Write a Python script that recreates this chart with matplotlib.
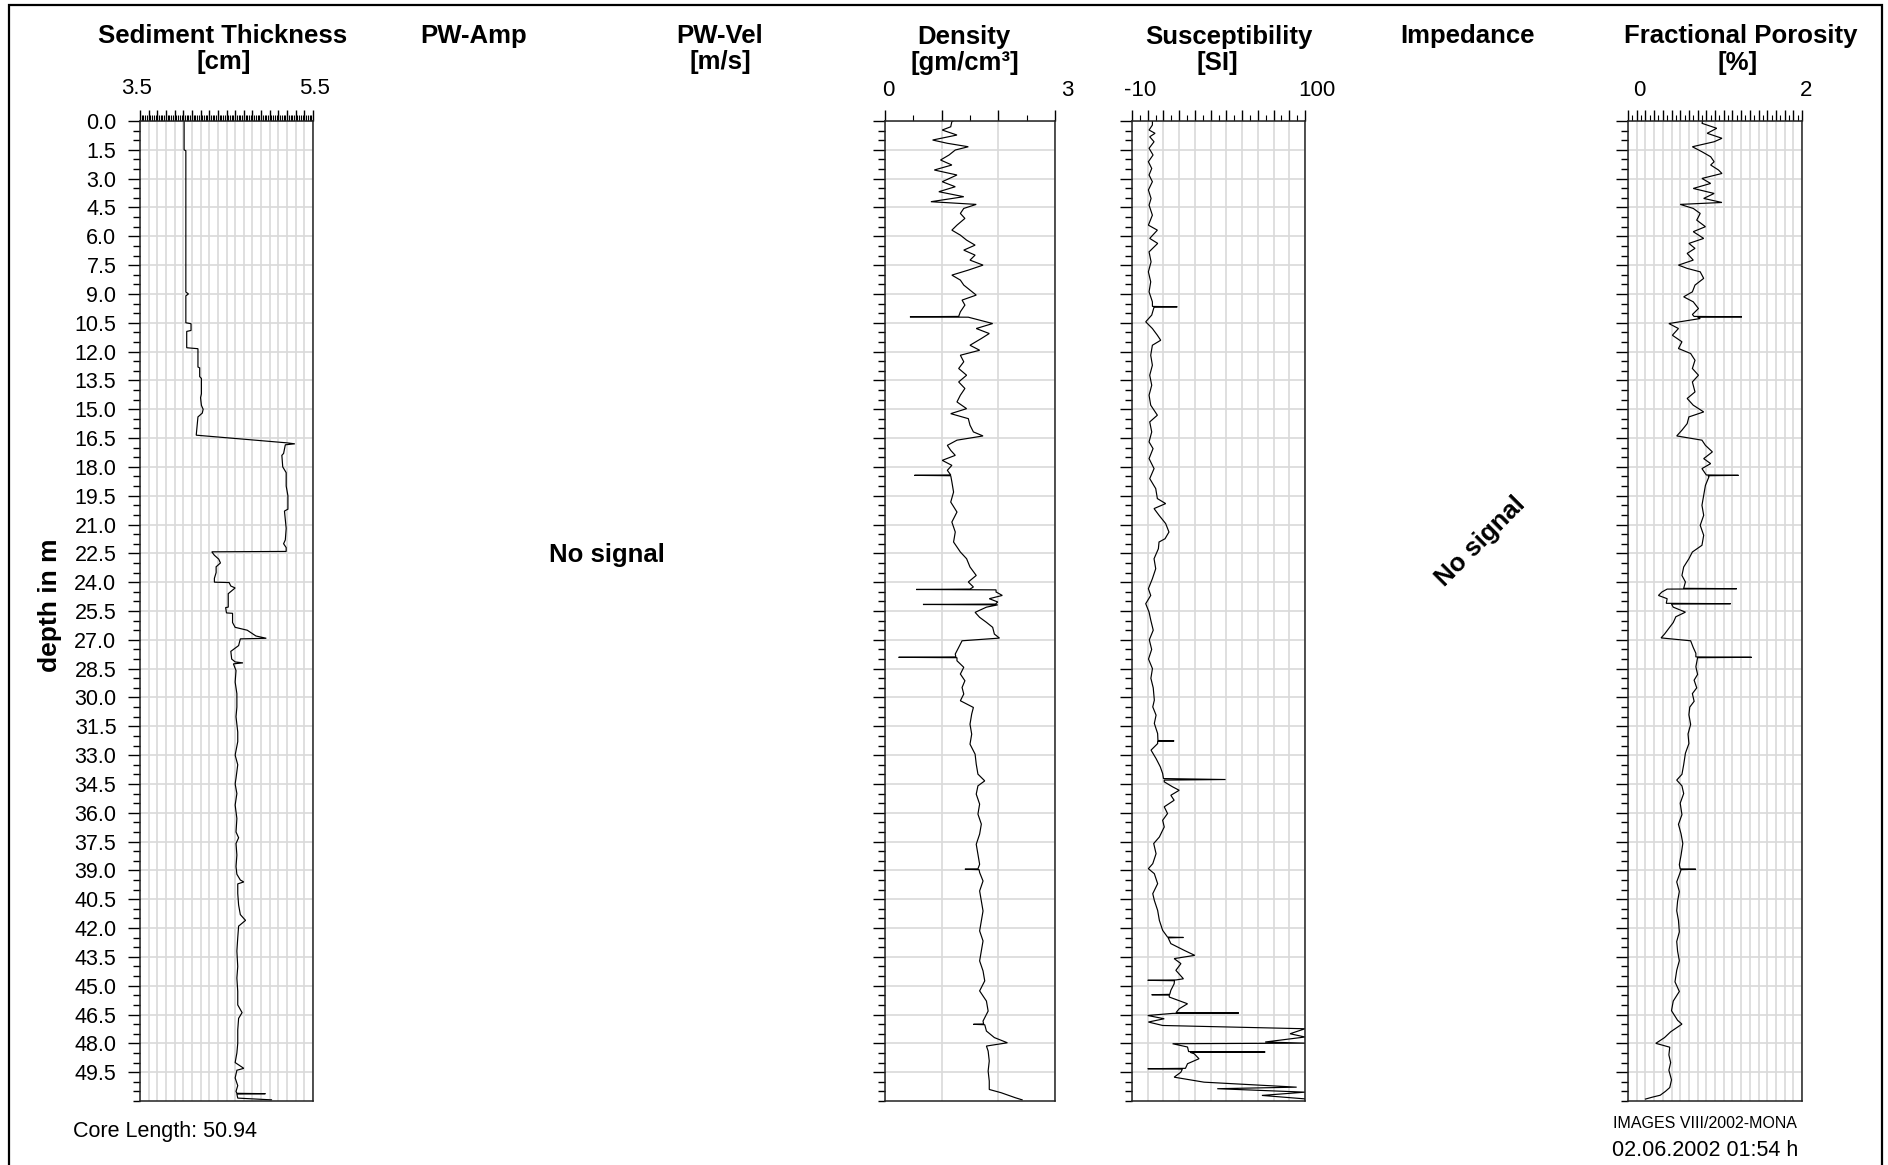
import matplotlib
matplotlib.use("Agg")
import numpy as np
import matplotlib.pyplot as plt
from matplotlib.ticker import MultipleLocator, FixedLocator, FormatStrFormatter
from matplotlib.patches import Rectangle

plt.rcParams['font.family'] = ['Liberation Sans', 'DejaVu Sans']

# ---------------------------------------------------------------- data
core_length = 50.94
depth_ticks = [round(1.5 * i, 1) for i in range(34)]   # 0.0 ... 49.5 m

# (depth m, sediment thickness cm)
thickness_log = [
    (0.00, 4.01), (1.50, 4.01), (1.55, 4.03), (8.90, 4.03), (9.00, 4.06), (9.10, 4.03),
    (10.50, 4.03), (10.55, 4.09), (10.90, 4.09), (10.95, 4.04), (11.80, 4.04), (11.85, 4.17),
    (12.80, 4.17), (12.85, 4.19), (13.30, 4.19), (13.40, 4.21), (14.20, 4.21), (14.40, 4.20),
    (14.80, 4.21), (15.00, 4.23), (15.20, 4.22), (15.40, 4.17), (16.35, 4.15), (16.75, 5.20),
    (16.80, 5.29), (16.85, 5.18), (17.30, 5.16), (17.40, 5.14), (18.00, 5.15), (18.30, 5.19),
    (19.00, 5.19), (19.50, 5.21), (20.20, 5.21), (20.30, 5.17), (21.20, 5.19), (21.80, 5.18),
    (22.00, 5.16), (22.20, 5.19), (22.40, 5.19), (22.42, 4.33), (22.60, 4.36), (22.80, 4.41),
    (23.00, 4.43), (23.20, 4.38), (23.50, 4.38), (23.80, 4.36), (24.00, 4.36), (24.02, 4.53),
    (24.20, 4.55), (24.30, 4.60), (24.60, 4.52), (25.00, 4.52), (25.30, 4.52), (25.32, 4.49),
    (25.60, 4.50), (25.62, 4.57), (26.10, 4.57), (26.35, 4.60), (26.50, 4.74), (26.80, 4.84),
    (26.92, 4.96), (26.95, 4.66), (27.30, 4.64), (27.60, 4.55), (28.00, 4.56), (28.15, 4.60),
    (28.20, 4.69), (28.25, 4.58), (28.60, 4.61), (29.20, 4.60), (29.80, 4.62), (30.50, 4.62),
    (31.00, 4.61), (31.80, 4.63), (32.30, 4.63), (33.00, 4.60), (33.50, 4.63), (34.20, 4.61),
    (34.50, 4.60), (35.00, 4.62), (35.60, 4.60), (36.30, 4.62), (37.00, 4.61), (37.30, 4.64),
    (37.60, 4.61), (38.20, 4.62), (38.80, 4.61), (39.20, 4.62), (39.50, 4.66), (39.60, 4.70),
    (39.70, 4.63), (40.20, 4.63), (40.80, 4.64), (41.30, 4.66), (41.60, 4.72), (41.90, 4.64),
    (42.50, 4.63), (43.20, 4.62), (44.00, 4.63), (44.60, 4.62), (45.30, 4.63), (46.00, 4.63),
    (46.40, 4.68), (46.70, 4.64), (47.30, 4.63), (48.00, 4.63), (48.50, 4.62), (49.00, 4.60),
    (49.30, 4.70), (49.40, 4.62), (49.80, 4.60), (50.20, 4.63), (50.50, 4.61), (50.60, 4.62),
    (50.62, 4.95), (50.64, 4.62), (50.85, 4.63), (50.94, 5.02),
]

# (depth m, bulk density g/cm3)
density_log = [
    (0.00, 1.20), (0.03, 1.18), (0.30, 1.16), (0.47, 1.01), (0.73, 1.27), (0.99, 0.84),
    (1.16, 1.10), (1.34, 1.47), (1.51, 1.24), (1.77, 1.13), (2.03, 0.98), (2.29, 1.18),
    (2.55, 0.87), (2.81, 1.27), (3.16, 1.01), (3.42, 1.24), (3.68, 0.95), (3.94, 1.39),
    (4.20, 0.81), (4.34, 1.61), (4.55, 1.39), (4.81, 1.33), (5.07, 1.41), (5.42, 1.27),
    (5.68, 1.18), (5.94, 1.33), (6.20, 1.44), (6.46, 1.59), (6.72, 1.39), (6.98, 1.59),
    (7.24, 1.50), (7.50, 1.73), (7.76, 1.47), (8.02, 1.18), (8.28, 1.33), (8.54, 1.39),
    (8.80, 1.50), (9.06, 1.61), (9.32, 1.36), (9.58, 1.41), (9.93, 1.33), (10.17, 1.30),
    (10.19, 0.44), (10.21, 1.47), (10.54, 1.90), (10.80, 1.61), (11.06, 1.84), (11.32, 1.70),
    (11.67, 1.50), (11.93, 1.67), (12.19, 1.33), (12.53, 1.39), (12.88, 1.30), (13.23, 1.44),
    (13.58, 1.30), (13.92, 1.41), (14.27, 1.33), (14.62, 1.27), (14.97, 1.44), (15.23, 1.16),
    (15.49, 1.47), (15.83, 1.50), (16.18, 1.56), (16.39, 1.73), (16.61, 1.27), (16.88, 1.10),
    (17.14, 1.16), (17.40, 1.24), (17.66, 1.01), (17.92, 1.18), (18.18, 1.10), (18.42, 1.16),
    (18.44, 0.52), (18.46, 1.16), (18.78, 1.18), (19.31, 1.21), (19.83, 1.16), (20.35, 1.27),
    (20.87, 1.18), (21.39, 1.24), (21.91, 1.21), (22.43, 1.33), (22.78, 1.44), (23.21, 1.50),
    (23.65, 1.61), (23.99, 1.47), (24.25, 1.56), (24.36, 1.50), (24.38, 0.55), (24.40, 1.96),
    (24.51, 1.96), (24.69, 2.07), (24.86, 1.84), (25.03, 1.99), (25.14, 1.95), (25.16, 0.67),
    (25.18, 1.99), (25.30, 1.79), (25.57, 1.59), (25.83, 1.67), (26.09, 1.79), (26.35, 1.90),
    (26.70, 1.93), (26.91, 2.02), (27.05, 1.36), (27.39, 1.30), (27.74, 1.24), (27.89, 1.25),
    (27.91, 0.24), (27.93, 1.27), (28.09, 1.27), (28.43, 1.39), (28.78, 1.33), (29.13, 1.41),
    (29.48, 1.36), (29.82, 1.39), (30.17, 1.33), (30.52, 1.56), (30.86, 1.53), (31.39, 1.50),
    (31.91, 1.53), (32.43, 1.50), (32.95, 1.59), (33.47, 1.61), (33.99, 1.64), (34.34, 1.76),
    (34.60, 1.64), (35.03, 1.61), (35.55, 1.67), (36.07, 1.64), (36.59, 1.70), (37.11, 1.67),
    (37.64, 1.61), (38.16, 1.64), (38.68, 1.67), (38.92, 1.64), (38.94, 1.41), (38.96, 1.66),
    (39.11, 1.67), (39.55, 1.73), (40.07, 1.67), (40.59, 1.70), (41.11, 1.73), (41.63, 1.70),
    (42.15, 1.67), (42.67, 1.73), (43.19, 1.70), (43.71, 1.67), (44.23, 1.73), (44.75, 1.76),
    (45.27, 1.67), (45.80, 1.79), (46.32, 1.82), (46.84, 1.73), (46.99, 1.74), (47.01, 1.56),
    (47.03, 1.76), (47.36, 1.79), (47.70, 1.93), (47.97, 2.16), (48.14, 1.79), (48.40, 1.82),
    (48.92, 1.84), (49.44, 1.82), (49.96, 1.84), (50.40, 1.84), (50.57, 2.05), (50.83, 2.30),
    (50.94, 2.42),
]

# (depth m, magnetic susceptibility SI)
susceptibility_log = [
    (0.00, 3.0), (0.21, 2.96), (0.47, 0.85), (0.64, 4.65), (0.82, 1.27), (1.08, 4.02),
    (1.42, 0.85), (1.77, 3.38), (2.12, 0.42), (2.47, 2.54), (2.81, 0.85), (3.16, 2.96),
    (3.59, 0.42), (4.03, 2.12), (4.38, 0.85), (4.90, 2.96), (5.42, 0.42), (5.68, 6.13),
    (6.11, 1.27), (6.37, 6.35), (6.81, 0.85), (7.33, 2.12), (7.85, 0.42), (8.37, 1.90),
    (8.89, 0.85), (9.41, 2.96), (9.65, 3.0), (9.67, 18.8), (9.69, 4.0), (10.10, 2.54),
    (10.45, -1.27), (10.80, 2.96), (11.15, 6.13), (11.41, 8.25), (11.67, 2.96), (12.19, 1.90),
    (12.71, 2.96), (13.23, 1.27), (13.75, 2.54), (14.27, 0.85), (14.79, 1.90), (15.31, 6.13),
    (15.66, 1.27), (16.18, 2.54), (16.70, 0.85), (17.05, 3.38), (17.57, 0.85), (18.09, 4.02),
    (18.61, 1.27), (19.13, 5.08), (19.65, 6.13), (19.91, 11.4), (20.17, 4.02), (20.52, 7.19),
    (20.95, 11.4), (21.39, 13.5), (21.74, 11.0), (21.91, 7.19), (22.26, 6.77), (22.78, 4.02),
    (23.30, 5.08), (23.82, 2.96), (24.34, 0.42), (24.69, 1.90), (25.12, -1.27), (25.56, 0.85),
    (26.00, 2.0), (26.50, 3.5), (27.00, 1.0), (27.50, 2.5), (28.00, 0.5), (28.50, 3.0),
    (29.00, 2.0), (29.50, 3.5), (30.14, 4.2), (30.49, 3.2), (30.92, 5.3), (31.35, 4.2),
    (31.88, 6.3), (32.24, 6.5), (32.26, 16.8), (32.28, 6.3), (32.40, 6.3), (32.74, 2.1),
    (33.18, 5.3), (33.61, 8.0), (33.96, 9.5), (34.22, 10.0), (34.27, 49.5), (34.30, 10.5),
    (34.39, 10.5), (34.65, 15.8), (34.83, 20.0), (35.09, 14.7), (35.35, 16.8), (35.69, 10.5),
    (36.04, 12.6), (36.39, 9.5), (36.74, 10.5), (37.26, 7.4), (37.60, 3.8), (38.13, 5.3),
    (38.65, 3.2), (38.91, 0.4), (39.17, 4.2), (39.69, 6.3), (40.21, 3.2), (40.56, 4.2),
    (41.08, 6.3), (41.60, 7.4), (42.12, 9.5), (42.47, 12.6), (42.49, 22.7), (42.51, 13.0),
    (42.81, 14.7), (43.16, 23.2), (43.42, 29.9), (43.59, 16.8), (43.85, 21.1), (44.20, 17.9),
    (44.64, 22.7), (44.70, 18.0), (44.72, 0.0), (44.74, 17.0), (44.90, 16.8), (45.24, 14.7),
    (45.45, 14.0), (45.47, 2.5), (45.49, 13.7), (45.59, 13.7), (45.94, 25.3), (46.20, 20.0),
    (46.40, 18.0), (46.42, 57.9), (46.44, 16.0), (46.55, 0.0), (46.72, 10.5), (46.89, 0.4),
    (47.07, 9.5), (47.24, 100.0), (47.50, 90.5), (47.67, 100.0), (47.93, 74.7), (47.99, 100.0),
    (48.02, 15.8), (48.19, 25.3), (48.43, 26.0), (48.45, 74.7), (48.47, 27.0), (48.54, 29.5),
    (48.80, 32.6), (49.06, 25.3), (49.30, 24.0), (49.32, 0.0), (49.34, 22.0), (49.50, 21.1),
    (49.76, 16.8), (50.02, 35.8), (50.28, 94.7), (50.36, 44.2), (50.54, 100.0), (50.71, 72.6),
    (50.89, 100.0),
]

# (depth m, fractional porosity)
porosity_log = [
    (0.00, 0.86), (0.12, 0.85), (0.38, 1.02), (0.64, 0.91), (0.90, 1.08), (1.08, 0.99),
    (1.34, 0.74), (1.60, 0.85), (1.86, 0.95), (2.12, 0.99), (2.29, 0.95), (2.55, 1.04),
    (2.73, 1.08), (2.99, 0.85), (3.25, 0.95), (3.51, 0.75), (3.77, 0.99), (4.03, 0.87),
    (4.24, 1.08), (4.34, 0.60), (4.55, 0.75), (4.81, 0.83), (5.16, 0.79), (5.50, 0.89),
    (5.76, 0.75), (6.11, 0.87), (6.37, 0.70), (6.63, 0.77), (6.89, 0.68), (7.24, 0.75),
    (7.50, 0.58), (7.67, 0.68), (7.85, 0.83), (8.19, 0.87), (8.54, 0.77), (8.89, 0.74),
    (9.15, 0.64), (9.41, 0.75), (9.76, 0.81), (10.07, 0.74), (10.17, 0.76), (10.19, 1.31),
    (10.21, 0.80), (10.28, 0.83), (10.54, 0.47), (10.80, 0.58), (11.15, 0.51), (11.49, 0.62),
    (11.84, 0.58), (12.10, 0.72), (12.45, 0.77), (12.88, 0.74), (13.23, 0.81), (13.58, 0.74),
    (14.10, 0.77), (14.44, 0.68), (14.79, 0.75), (15.14, 0.87), (15.40, 0.70), (15.75, 0.68),
    (16.09, 0.62), (16.39, 0.56), (16.61, 0.85), (16.88, 0.89), (17.22, 0.97), (17.57, 0.87),
    (17.83, 0.95), (18.09, 0.85), (18.42, 0.90), (18.44, 1.27), (18.46, 0.92), (18.52, 0.93),
    (18.96, 0.89), (19.48, 0.87), (20.00, 0.85), (20.52, 0.87), (21.04, 0.83), (21.56, 0.87),
    (22.08, 0.85), (22.43, 0.74), (22.78, 0.70), (23.21, 0.64), (23.65, 0.62), (23.99, 0.66),
    (24.32, 0.64), (24.34, 1.25), (24.36, 0.45), (24.51, 0.39), (24.69, 0.35), (24.86, 0.45),
    (25.10, 0.44), (25.12, 1.18), (25.14, 0.50), (25.30, 0.52), (25.56, 0.66), (25.80, 0.55),
    (26.10, 0.52), (26.40, 0.47), (26.70, 0.42), (26.90, 0.38), (27.05, 0.72), (27.40, 0.75),
    (27.70, 0.78), (27.89, 0.78), (27.91, 1.42), (27.93, 0.80), (28.40, 0.78), (28.80, 0.80),
    (29.10, 0.76), (29.50, 0.79), (29.80, 0.74), (30.20, 0.76), (30.50, 0.71), (30.90, 0.70),
    (31.40, 0.72), (31.90, 0.69), (32.40, 0.70), (32.90, 0.66), (33.50, 0.64), (34.00, 0.62),
    (34.30, 0.56), (34.60, 0.62), (35.00, 0.64), (35.50, 0.60), (36.10, 0.62), (36.60, 0.58),
    (37.10, 0.61), (37.60, 0.63), (38.20, 0.61), (38.70, 0.59), (38.92, 0.60), (38.94, 0.78),
    (38.96, 0.61), (39.10, 0.60), (39.60, 0.56), (40.10, 0.59), (40.60, 0.57), (41.10, 0.56),
    (41.60, 0.58), (42.20, 0.59), (42.70, 0.56), (43.20, 0.57), (43.70, 0.59), (44.20, 0.56),
    (44.80, 0.54), (45.30, 0.59), (45.80, 0.52), (46.30, 0.50), (46.80, 0.57), (47.00, 0.62),
    (47.40, 0.49), (47.70, 0.42), (48.00, 0.32), (48.20, 0.48), (48.60, 0.47), (49.00, 0.49),
    (49.40, 0.47), (49.90, 0.50), (50.30, 0.48), (50.50, 0.43), (50.70, 0.37), (50.80, 0.28),
    (50.90, 0.20),
]

# ---------------------------------------------------------------- figure
W, H = 1888, 1165
fig = plt.figure(figsize=(W / 100, H / 100), dpi=100)
TOP, BOTTOM = 121, 1101
DEPTH_MAX = 51.0


def px_axes(x0, x1):
    return fig.add_axes([x0 / W, 1 - BOTTOM / H, (x1 - x0) / W, (BOTTOM - TOP) / H])


def ftext(x, y, s, **kw):
    kw.setdefault('ha', 'center')
    kw.setdefault('va', 'center')
    return fig.text(x / W, 1 - y / H, s, **kw)


def log_panel(x0, x1, xlim, major, minor, log, show_depth=False):
    ax = px_axes(x0, x1)
    depth, value = zip(*log)
    ax.plot(value, depth, color='black', lw=0.85, solid_joinstyle='miter')
    ax.set_xlim(*xlim)
    ax.set_ylim(DEPTH_MAX, 0)
    ax.xaxis.set_major_locator(MultipleLocator(major))
    ax.xaxis.set_minor_locator(MultipleLocator(minor))
    ax.yaxis.set_major_locator(FixedLocator(depth_ticks))
    ax.yaxis.set_minor_locator(MultipleLocator(0.5))
    ax.yaxis.set_major_formatter(FormatStrFormatter('%.1f'))
    ax.tick_params(axis='x', which='both', top=True, bottom=False,
                   labeltop=False, labelbottom=False, direction='out', color='black')
    ax.tick_params(axis='x', which='major', length=8, width=1.0)
    ax.tick_params(axis='x', which='minor', length=4.5, width=0.8)
    ax.tick_params(axis='y', which='both', left=True, right=False,
                   direction='out', labelleft=show_depth, color='black')
    ax.tick_params(axis='y', which='major', length=9, width=1.0, pad=8, labelsize=15.5)
    ax.tick_params(axis='y', which='minor', length=5, width=1.0)
    ax.grid(True, which='major', color='#d9d9d9', lw=1.2)
    ax.set_axisbelow(True)
    for sp in ax.spines.values():
        sp.set_linewidth(1.1)
        sp.set_color('#222222')
    return ax


log_panel(140, 313, (3.5, 5.5), 0.1, 0.02, thickness_log, show_depth=True)
log_panel(885, 1055, (0, 3), 1, 0.5, density_log)
log_panel(1132, 1305, (-10, 100), 10, 5, susceptibility_log)
log_panel(1628, 1802, (0, 2), 0.1, 0.05, porosity_log)

# ---------------------------------------------------------------- headers
TITLE = dict(fontsize=18.5, fontweight='bold')
SCALE = dict(fontsize=16)

ftext(223, 36, 'Sediment Thickness', **TITLE)
ftext(224, 62, '[cm]', **TITLE)
ftext(137, 89, '3.5', **SCALE)
ftext(315, 89, '5.5', **SCALE)

ftext(474, 36, 'PW-Amp', **TITLE)

ftext(720, 36, 'PW-Vel', **TITLE)
ftext(720, 62, '[m/s]', **TITLE)

ftext(964, 37, 'Density', **TITLE)
ftext(965, 63, '[gm/cm³]', **TITLE)
ftext(888, 90, '0', **SCALE)
ftext(1067, 90, '3', **SCALE)

ftext(1229, 37, 'Susceptibility', **TITLE)
ftext(1217, 63, '[SI]', **TITLE)
ftext(1140, 90, '-10', **SCALE)
ftext(1317, 90, '100', **SCALE)

ftext(1468, 36, 'Impedance', **TITLE)

ftext(1741, 36, 'Fractional Porosity', **TITLE)
ftext(1738, 63, '[%]', **TITLE)
ftext(1639, 90, '0', **SCALE)
ftext(1806, 90, '2', **SCALE)

# empty tracks
ftext(607, 555, 'No signal', **TITLE)
ftext(1480, 542, 'No signal', rotation=45, **TITLE)

ftext(50, 605, 'depth in m', rotation=90, fontsize=19, fontweight='bold')

ftext(73, 1132, f'Core Length: {core_length:.2f}', ha='left', fontsize=15.5)
ftext(1705, 1123, 'IMAGES VIII/2002-MONA', fontsize=11.5)
ftext(1705, 1150, '02.06.2002 01:54 h', fontsize=15.5)

# outer frame (bottom edge runs past the canvas)
fig.add_artist(Rectangle((9 / W, -0.05), (1882 - 9) / W, 1.05 - 5 / H,
                         transform=fig.transFigure, fill=False,
                         edgecolor='black', lw=1.6, clip_on=False))

fig.savefig('out.png', dpi=100)
